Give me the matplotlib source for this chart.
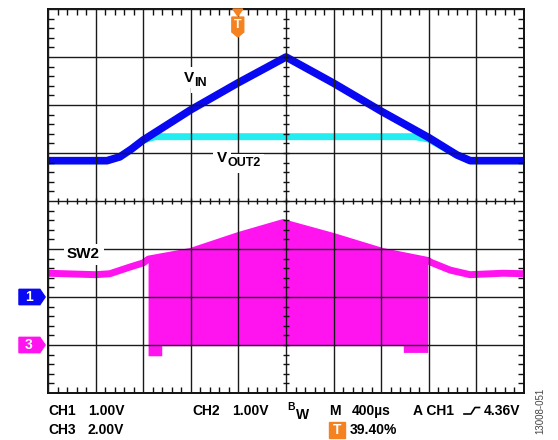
import numpy as np
import matplotlib
matplotlib.use("Agg")
from matplotlib import pyplot as plt
from matplotlib import transforms
from matplotlib.patches import Polygon, Rectangle
from matplotlib.lines import Line2D
from matplotlib.ticker import MultipleLocator

plt.rcParams['font.family'] = 'Liberation Sans'
plt.rcParams['font.weight'] = 'bold'

# scope settings
T_DIV = 400.0          # us / div
CH1_SCALE, CH1_POS = 1.0, -2.0   # V/div, ground marker (div)
CH2_SCALE, CH2_POS = 1.0, -2.0
CH3_SCALE, CH3_POS = 2.0, -3.0
TRIG_T = 1595.0

# CH1: VIN (us, V)
vin_t = [0, 496, 604, 700, 800, 1200, 1596, 2000, 2396, 2808, 3200, 3436, 3548, 4000]
vin_v = [2.84, 2.84, 2.92, 3.08, 3.27, 3.90, 4.46, 5.00, 4.46, 3.86, 3.32, 2.96, 2.84, 2.84]

# CH2: VOUT2
vout_t = [0, 496, 604, 700, 800, 900, 3084, 3200, 3436, 3548, 4000]
vout_v = [2.84, 2.84, 2.92, 3.08, 3.27, 3.34, 3.34, 3.29, 2.96, 2.84, 2.84]

# CH3: SW2 (top of trace)
sw2_t = [0, 400, 520, 690, 800, 845, 1200, 1600, 1975, 2400, 2810, 3195, 3215, 3380, 3546, 3824, 4000]
sw2_v = [2.99, 2.93, 2.97, 3.25, 3.42, 3.58, 3.90, 4.56, 5.10, 4.52, 3.90, 3.52, 3.45, 3.12, 2.93, 2.99, 2.97]
# switching burst, lower edge
burst_t = [845, 960, 960, 2990, 2990, 3195]
burst_lo = [-0.47, -0.47, -0.05, -0.05, -0.33, -0.33]

BLUE = '#0808F2'
CYAN = '#22EEF2'
MAGENTA = '#FF14F0'
ORANGE = '#F58220'


def to_div(v, scale, pos):
    return np.asarray(v) / scale + pos


fig = plt.figure(figsize=(5.58, 4.4), dpi=100)
ax = fig.add_axes([48 / 558, 1 - 393 / 440, 476 / 558, 384 / 440])
ax.set_xlim(0, 10 * T_DIV)
ax.set_ylim(-4, 4)

# traces
ax.plot(vout_t, to_div(vout_v, CH2_SCALE, CH2_POS), color=CYAN, lw=5,
        solid_joinstyle='round', zorder=2)
ax.plot(vin_t, to_div(vin_v, CH1_SCALE, CH1_POS), color=BLUE, lw=5.5,
        solid_joinstyle='round', zorder=2.1)

sw_t = np.array(sw2_t)
sw_v = np.array(sw2_v)
inb = (sw_t >= burst_t[0]) & (sw_t <= burst_t[-1])
poly_t = np.concatenate([sw_t[inb], burst_t[::-1]])
poly_v = np.concatenate([sw_v[inb], burst_lo[::-1]])
ax.fill(poly_t, to_div(poly_v, CH3_SCALE, CH3_POS), color=MAGENTA, lw=0, zorder=1.9)
ax.plot(sw2_t, to_div(sw2_v, CH3_SCALE, CH3_POS), color=MAGENTA, lw=5,
        solid_joinstyle='round', zorder=1.95)

# graticule
ax.set_xticks(np.arange(0, 4001, T_DIV))
ax.set_yticks(np.arange(-4, 5, 1))
ax.xaxis.set_minor_locator(MultipleLocator(T_DIV / 5))
ax.yaxis.set_minor_locator(MultipleLocator(0.2))
ax.tick_params(which='major', length=0, labelbottom=False, labelleft=False)
ax.tick_params(which='minor', direction='in', length=4, width=1, color='#111111',
               top=True, right=True, bottom=True, left=True)
ax.grid(True, which='major', color='#1a1a1a', lw=1.0)
ax.set_axisbelow(False)
for s in ax.spines.values():
    s.set_linewidth(1.4)
    s.set_color('#111111')

mt = np.arange(T_DIV / 5, 4000, T_DIV / 5)
my = np.arange(-4 + 0.2, 4, 0.2)
ax.vlines(mt, -0.055, 0.055, color='#111111', lw=1, zorder=3)
ax.hlines(my, 2000 - 22, 2000 + 22, color='#111111', lw=1, zorder=3)

# trace labels
box = dict(facecolor='white', edgecolor='none', pad=2.5)


def label(t, y, main, sub=None):
    parts = [(main, 0, 0, 11)]
    if sub:
        parts.append((sub, 7.4, -3, 9))
    for s, dx, dy, fs in parts:
        ax.annotate(s, xy=(t, y), xytext=(dx, dy), textcoords='offset points',
                    fontsize=fs, ha='left', va='baseline', color='white',
                    bbox=box, zorder=4)
    for s, dx, dy, fs in parts:
        ax.annotate(s, xy=(t, y), xytext=(dx, dy), textcoords='offset points',
                    fontsize=fs, ha='left', va='baseline', color='black', zorder=4.5)


label(1143, 2.48, 'V', 'IN')
label(1420, 0.81, 'V', 'OUT2')
label(160, -1.19, 'SW2')

# channel ground markers
bt = transforms.blended_transform_factory(ax.transAxes, ax.transData)
for ch, pos, col in [('1', CH1_POS, BLUE), ('3', CH3_POS, MAGENTA)]:
    h = 0.16
    ax.add_patch(Polygon([(-0.061, pos - h), (-0.017, pos - h), (-0.006, pos),
                          (-0.017, pos + h), (-0.061, pos + h)],
                         closed=True, color=col, transform=bt, clip_on=False))
    ax.text(-0.040, pos, ch, color='white', fontsize=10, ha='center', va='center',
            transform=bt, clip_on=False)

# trigger marker
tt = transforms.blended_transform_factory(ax.transData, ax.transAxes)
dx = 42
ax.add_patch(Polygon([(TRIG_T - dx, 1.0), (TRIG_T + dx, 1.0), (TRIG_T, 0.982)],
                     closed=True, color=ORANGE, transform=tt, clip_on=False, zorder=5))
dx = 50
ax.add_patch(Polygon([(TRIG_T - dx, 0.979), (TRIG_T + dx, 0.979), (TRIG_T + dx, 0.940),
                      (TRIG_T, 0.927), (TRIG_T - dx, 0.940)],
                     closed=True, color=ORANGE, transform=tt, clip_on=False, zorder=5))
ax.text(TRIG_T, 0.958, 'T', color='white', fontsize=9, ha='center', va='center',
        transform=tt, zorder=6)


# readout
def ft(px, py, s, **kw):
    kw.setdefault('fontsize', 10)
    fig.text(px / 558, 1 - py / 440, s, ha='left', va='center', **kw)


ft(48, 411, 'CH1')
ft(88, 411, '1.00V')
ft(192, 411, 'CH2')
ft(232, 411, '1.00V')
ft(287, 407, 'B', fontsize=7.5)
ft(296, 415, 'W', fontsize=10)
ft(329, 411, 'M')
ft(352, 411, '400µs')
ft(413, 411, 'A CH1')
ft(484, 411, '4.36V')
fig.add_artist(Line2D(np.array([464, 471, 475, 479.5]) / 558,
                      1 - np.array([414, 414, 407.5, 407.5]) / 440,
                      color='black', lw=1.2))
ft(48, 430, 'CH3')
ft(88, 430, '2.00V')
fig.add_artist(Rectangle((329 / 558, 1 - 438 / 440), 16 / 558, 16 / 440,
                         color=ORANGE, transform=fig.transFigure))
fig.text(337 / 558, 1 - 430 / 440, 'T', color='white', fontsize=10, ha='center', va='center')
ft(350, 430, '39.40%')

fig.text(540 / 558, 1 - 411 / 440, '13008-051', rotation=90, fontsize=7,
         fontweight='normal', color='#444444', ha='center', va='center')

fig.savefig('out.png', dpi=100)
